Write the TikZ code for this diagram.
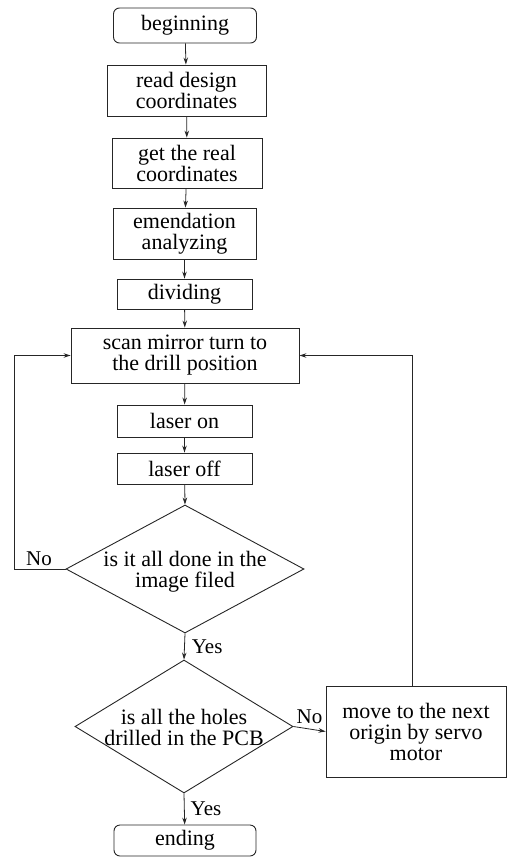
\documentclass[tikz,border=0pt]{standalone}
\usepackage{fontspec}
\setmainfont{Liberation Serif}
\usetikzlibrary{arrows.meta,shapes.geometric}
\tikzset{
  base/.style={draw=black!85, line width=0.9pt, font=\fontsize{22}{21}\selectfont, align=center, inner sep=0pt},
  procbox/.style={base, rectangle},
  termbox/.style={base, rectangle, rounded corners=6pt},
  decbox/.style={draw=black!85, line width=0.9pt, diamond, inner sep=0pt},
  txt/.style={font=\fontsize{22}{21}\selectfont, align=center, inner sep=0pt},
  lbl/.style={font=\fontsize{21}{21}\selectfont, inner sep=0pt},
  conn/.style={draw=black!85, line width=0.8pt, -{Stealth[length=7pt,width=4.5pt]}}
}
\begin{document}
\begin{tikzpicture}[x=1pt,y=-1pt]
\useasboundingbox (0,0) rectangle (507,857);
\node[termbox, minimum width=143pt, minimum height=35pt] (begin) at (185,25.5) {beginning};
\node[procbox, minimum width=159pt, minimum height=51pt] (read) at (186.5,90.5) {read design\\coordinates};
\node[procbox, minimum width=150pt, minimum height=50pt] (get) at (187,163) {get the real\\coordinates};
\node[procbox, minimum width=143pt, minimum height=51pt] (emend) at (184.5,233.5) {emendation\\analyzing};
\node[procbox, minimum width=135pt, minimum height=30pt] (div) at (184.5,294) {dividing};
\node[procbox, minimum width=228pt, minimum height=55pt] (scan) at (185,355.5) {scan mirror turn to\\the drill position};
\node[procbox, minimum width=135pt, minimum height=32pt] (on) at (184.5,421) {laser on};
\node[procbox, minimum width=135pt, minimum height=31pt] (off) at (184.5,468.5) {laser off};
\node[decbox, minimum width=238pt, minimum height=128pt] (d1) at (185,569) {};
\node[txt] (d1t) at ([yshift=-3pt]d1.center) {is it all done in the\\image filed};
\node[decbox, minimum width=218pt, minimum height=133pt] (d2) at (184,726.5) {};
\node[txt] (d2t) at ([yshift=-1pt]d2.center) {is all the holes\\drilled in the PCB};
\node[procbox, minimum width=180pt, minimum height=91pt] (move) at (416,731.5) {move to the next\\origin by servo\\motor};
\node[termbox, minimum width=142pt, minimum height=31pt] (end) at (185,840.5) {ending};

\draw[conn] (begin) -- (read);
\draw[conn] (read) -- (get);
\draw[conn] (get) -- (emend);
\draw[conn] (emend) -- (div);
\draw[conn] (div) -- (scan);
\draw[conn] (scan) -- (on);
\draw[conn] (on) -- (off);
\draw[conn] (off) -- (d1.north);
\draw[conn] (d1.south) -- node[lbl, right=7pt] (yes1) {Yes} (d2.north);
\draw[conn] (d2.south) -- node[lbl, right=6pt] (yes2) {Yes} (end);
\draw[conn] (d1.west) -- ++(-51,0) |- (scan.west);
\node[lbl, anchor=south] (no1) at (39,566) {No};
\draw[conn] (d2.east) -- node[lbl, above=5pt] (no2) {No} (move.west);
\draw[conn] ([xshift=-4pt]move.north) |- (scan.east);
\end{tikzpicture}
\end{document}
